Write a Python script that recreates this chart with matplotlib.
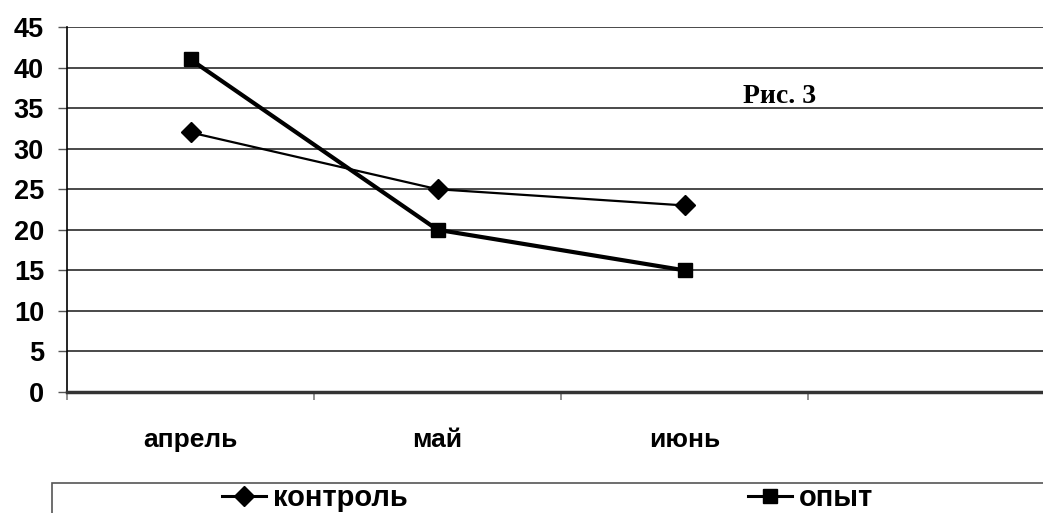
import numpy as np
import matplotlib
matplotlib.use('Agg')
import matplotlib.pyplot as plt
from matplotlib.patches import Rectangle

plt.rcParams['font.family'] = ['Liberation Sans', 'DejaVu Sans']

# data
months = ['апрель', 'май', 'июнь']
control = [32, 25, 23]
experiment = [41, 20, 15]
y_ticks = list(range(0, 50, 5))

W, H = 1043, 513
fig = plt.figure(figsize=(W / 100, H / 100), dpi=100)
ax = fig.add_axes([67 / W, 121 / H, 988 / W, 365 / H])

x = np.arange(len(months)) + 0.5
ax.plot(x, control, color='black', lw=1.6, marker='D', ms=10.5, label='контроль', zorder=3)
ax.plot(x, experiment, color='black', lw=3.0, marker='s', ms=9.5, label='опыт', zorder=3)

ax.set_xlim(0, 4)
ax.set_ylim(0, 45)
ax.set_yticks(y_ticks)
ax.set_yticklabels([str(v) for v in y_ticks], fontsize=19.5, fontweight='bold')
ax.yaxis.grid(True, color='#3a3a3a', lw=1.3)
ax.set_axisbelow(True)

ax.set_xticks(x)
ax.set_xticklabels(months, fontsize=19, fontweight='bold')
ax.tick_params(axis='x', which='major', length=0, pad=26)
ax.set_xticks(np.arange(0, 5), minor=True)
ax.tick_params(axis='x', which='minor', length=6, color='#888888', width=1.3)
ax.tick_params(axis='y', length=6.5, width=1, color='#555555', pad=10)

for side in ('top', 'right'):
    ax.spines[side].set_visible(False)
ax.spines['left'].set_color('black')
ax.spines['left'].set_linewidth(1.2)
ax.spines['bottom'].set_color('#333333')
ax.spines['bottom'].set_linewidth(2.5)

fig.text(743 / W, 1 - 103 / H, 'Рис. 3', fontsize=20, fontweight='bold',
         family=['Liberation Serif', 'DejaVu Serif'], ha='left', va='baseline')

# legend box along the bottom
fig.patches.append(Rectangle((52 / W, -0.05), 1.0, (H - 483) / H + 0.05,
                             transform=fig.transFigure, fill=False,
                             edgecolor='#555555', lw=1.2))
h, l = ax.get_legend_handles_labels()
for handle, label, x0 in zip(h, l, [222, 748]):
    lg = fig.legend([handle], [label], loc='center left', bbox_to_anchor=(x0 / W, 1 - 498 / H),
                    frameon=False, prop={'weight': 'bold', 'size': 21},
                    handlelength=1.5, handletextpad=0.25, borderpad=0, borderaxespad=0)
    for ln in lg.get_lines():
        ln.set_linewidth(2.2)

fig.savefig('out.png', dpi=100)
